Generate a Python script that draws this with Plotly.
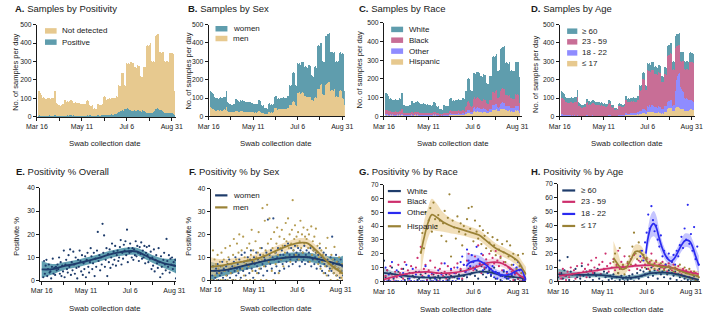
import pandas as pd
import plotly.graph_objects as go

W, H = 713, 316
FONT = "Liberation Sans, Arial, sans-serif"
INK = "#1a1a1a"

TEAL = "#5f9dad"
TAN = "#e7c98f"
PINK = "#c86e96"
LILAC = "#8f8cff"
NAVY = "#1e3c6b"
OLIVE = "#9a8236"
CRIMSON = "#cd2e6c"
BLUE = "#2a2af0"

BASE = "2020-03-16"
BAR_START = "2020-03-18"
DOT_START = "2020-03-18"
TICK_DATES = ["2020-03-16", "2020-04-13", "2020-05-11", "2020-06-08", "2020-07-06", "2020-08-03", "2020-08-31"]
TICK_TEXT = ["Mar 16", "", "May 11", "", "Jul 6", "", "Aug 31"]

# ---------------- A. Samples by positivity (daily counts from Mar 18) ----------------
positive = [6,8,5,7,4, 6,5,7,8,6,4,5, 7,6,8,5,6,7,5, 6,9,8,5,6,4,5, 4,5,6,5,4,6,7,
            8,6,7,9,7,6,8, 9,8,7,6,8,7,6, 6,5,7,6,5,4,6, 5,6,5,4,6,5,7, 8,7,9,10,8,6,7,
            5,6,7,5,4,8,9, 8,7,6,8,9,10,12, 11,10,9,12,10,11,13, 12,11,14,13,12,15,16,
            14,18,20,19,26,28,30, 34,36,35,33,42,44,46, 45,47,44,40,38,36,34,
            32,30,34,36,33,31,35, 34,36,32,30,28,33,35, 34,30,28,26,22,24,23,
            21,22,24,20,23,25,30, 38,42,44,46,45,43,40, 38,36,34,30,26,24,22,
            23,21,20,22,24,20,18, 22,20,18,9]
not_detected = [132,132,127,119,116, 98,101,95,92,92,92,95, 95,98,92,93,94,97,101,
                98,131,134,71,66,64,61, 58,55,58,61,66,62,87, 88,86,75,75,73,82,78,
                83,82,79,78,70,69,74, 72,75,69,68,73,68,68, 65,66,63,66,62,65,81,
                82,81,77,54,52,52,55, 39,40,41,40,38,62,63, 60,57,60,54,56,58,96,
                101,100,87,82,88,85,87, 90,87,86,91,88,83,86, 86,94,90,89,146,140,140,
                204,209,205,203,130,124,124, 247,241,246,246,242,260,264,
                262,262,236,236,235,235,245, 248,242,244,194,190,187,181,
                236,242,240,240,363,364,359, 369,380,374,280,273,277,268,
                397,398,402,402,405,409,310, 314,312,316,316,326,276,274,
                279,277,280,274,321,328,324, 324,324,322,131]

# ---------------- B. Samples by sex ----------------
men = [50,55,45,40,38, 35,38,32,30,36,34,30, 32,34,30,28,30,35,38, 36,50,48,28,25,24,22,
       20,22,24,22,25,24,32, 30,28,26,28,25,30,28, 30,28,26,25,24,22,25, 24,26,22,24,25,22,24,
       22,24,20,22,20,22,28, 30,28,26,20,18,18,20, 14,15,16,14,13,22,24, 22,20,22,20,22,24,45,
       48,46,38,36,40,38,40, 42,40,40,42,40,38,42, 40,46,44,45,62,60,62, 80,84,82,80,60,58,60,
       130,128,132,126,120,128,132, 130,128,110,112,108,106,112, 108,106,104,90,86,88,84,
       100,104,102,98,150,152,148, 165,170,175,120,118,122,118, 170,176,180,184,186,188,140,
       145,142,146,140,148,110,104, 112,108,106,104,140,144,138, 100,98,96,60]
women = [88,85,87,86,82, 69,68,70,70,62,62,70, 70,70,70,70,70,69,68, 68,90,94,48,47,44,44,
         42,38,40,44,45,44,62, 66,64,56,56,55,58,58, 62,62,60,59,54,54,55, 54,54,54,50,53,50,50,
         48,48,48,48,48,48,60, 60,60,60,44,42,40,42, 30,31,32,31,29,48,48, 46,44,44,42,43,44,63,
         64,64,58,58,58,58,60, 60,58,60,62,60,60,60, 60,66,66,63,110,108,108,
         158,161,158,156,112,110,110, 162,160,158,160,160,168,166, 164,164,160,160,160,160,168,
         174,172,172,134,132,132,132, 170,168,166,168,235,236,234, 225,232,223,180,178,180,180,
         265,264,266,264,264,264,210, 207,206,204,206,204,190,192, 190,190,194,192,205,204,204,
         246,246,244,80]

# ---------------- C. Samples by race ----------------
race_hispanic = [6,5,7,4,5, 5,6,4,5,6,4,5, 6,5,4,6,5,7,6, 5,8,7,4,5,3,4, 4,3,5,4,5,4,6,
                 6,5,4,6,5,6,5, 6,5,5,4,5,4,5, 5,4,5,4,5,4,5, 4,5,4,5,4,5,6, 6,5,6,4,4,3,4,
                 3,3,4,3,3,5,5, 5,4,5,4,5,5,8, 9,8,7,7,8,7,8, 8,7,8,9,8,7,8, 8,9,9,8,12,12,13,
                 18,19,18,17,14,13,14, 26,25,27,24,23,26,27, 26,25,22,23,22,21,24,
                 24,23,22,18,17,18,17, 22,23,22,21,34,35,33, 36,40,38,28,27,28,27,
                 38,40,42,42,40,41,32, 32,30,31,30,32,26,25, 27,25,26,25,30,32,30, 32,30,29,18]
race_other = [6,7,6,5,5, 5,5,4,5,5,4,5, 5,5,4,5,5,5,6, 5,7,7,4,4,3,3, 3,3,4,3,4,3,5,
              5,4,4,4,4,5,4, 5,4,4,4,4,3,4, 4,4,4,3,4,3,4, 3,4,3,4,3,4,5, 5,4,5,3,3,3,3,
              2,2,3,2,2,4,4, 4,3,4,3,4,4,6, 7,6,6,5,6,6,6, 6,6,6,7,6,6,6, 6,7,7,6,10,10,11,
              16,17,16,15,11,10,11, 20,19,21,18,18,20,21, 20,20,18,18,17,17,19,
              19,18,18,14,14,14,13, 18,19,18,17,26,27,26, 28,30,29,20,20,21,20,
              30,32,34,33,32,33,24, 24,23,24,23,25,20,19, 20,19,20,19,24,25,24, 25,24,23,14]
race_black = [22,24,20,19,18, 17,18,16,16,15,15,16, 16,17,16,15,16,17,18, 17,24,24,12,11,10,10,
              10,9,10,10,11,10,15, 15,14,12,13,12,14,13, 14,14,13,13,12,11,12, 12,12,11,11,12,11,11,
              10,11,10,10,10,10,13, 13,13,12,9,9,8,9, 7,7,7,7,6,10,10, 10,9,10,9,9,10,16,
              17,16,14,14,15,14,15, 15,15,15,16,15,15,16, 15,17,16,16,30,29,30,
              42,44,43,42,30,29,30, 52,50,54,50,48,52,54, 52,50,46,46,45,44,48,
              48,47,46,38,36,37,36, 46,46,45,44,68,70,68, 70,74,72,52,50,52,51,
              70,72,74,74,72,73,58, 58,56,57,56,58,50,48, 50,48,49,48,58,60,58, 60,58,57,40]
race_white = [92,88,85,84,80, 67,67,68,64,62,63,64, 65,67,66,62,64,65,66, 67,85,88,46,42,44,41,
              37,37,37,41,42,43,58, 58,57,52,51,49,53,54, 55,55,54,53,47,48,49, 47,50,46,46,47,44,44,
              43,42,41,41,41,41,52, 54,54,51,38,36,36,38, 26,28,28,26,25,41,43, 39,40,39,38,38,39,64,
              65,66,57,56,57,57,59, 61,58,59,60,59,58,60, 59,65,64,64,88,85,84,
              124,126,125,124,85,84,83, 136,136,130,136,135,138,136, 138,139,130,131,130,130,133,
              135,134,134,110,107,107,106, 130,130,129,130,190,188,189, 188,190,191,144,143,145,144,
              222,220,218,221,228,227,172, 174,175,174,173,173,148,148, 149,150,149,148,178,175,176,
              175,178,177,138]

# ---------------- D. Samples by age ----------------
age_le17 = [3,4,3,2,2, 2,3,2,2,3,2,2, 2,2,3,2,2,3,2, 2,4,3,2,1,2,1, 1,2,1,2,1,2,3,
            3,2,2,3,2,3,2, 3,2,2,3,2,2,3, 2,3,2,2,3,2,2, 2,3,2,2,3,2,3, 3,3,4,2,3,2,3,
            2,2,3,2,2,4,4, 4,3,4,3,4,5,8, 9,8,7,8,7,8,9, 9,8,9,10,9,8,10, 9,11,10,11,14,13,14,
            18,19,18,17,14,13,14, 24,22,25,23,22,26,25, 24,23,20,21,20,19,22,
            22,21,20,17,16,17,16, 24,26,24,23,42,44,40, 44,48,46,30,28,30,29,
            46,48,50,52,50,48,38, 40,38,40,37,40,30,28, 30,28,29,27,36,38,36, 38,36,34,16]
age_18_22 = [12,14,10,8,7, 6,5,5,4,5,4,4, 4,3,4,3,3,4,3, 3,5,4,2,2,2,2, 2,2,2,2,2,2,3,
             3,2,2,2,2,3,2, 3,2,2,2,2,2,2, 2,2,2,2,2,2,2, 2,2,2,2,2,2,3, 3,3,3,2,2,2,2,
             2,2,2,2,2,3,3, 3,3,3,3,3,4,8, 9,9,8,8,9,8,9, 10,9,10,11,10,9,11, 10,12,12,12,16,16,18,
             24,26,25,24,20,18,19, 34,32,36,33,32,36,35, 34,33,30,32,30,29,33,
             34,33,32,26,25,26,25, 32,34,33,32,38,40,36, 40,44,42,32,30,33,32,
             90,120,150,170,180,190,140, 120,110,100,96,92,70,66, 70,66,64,60,52,50,48, 50,46,44,20]
age_23_59 = [88,86,85,84,81, 70,71,70,69,66,66,69, 71,73,68,69,70,71,75, 74,97,100,54,52,48,48,
             45,42,46,47,51,49,68, 70,69,61,61,59,63,64, 67,67,64,61,58,56,58, 58,58,56,55,57,53,55,
             52,52,50,52,49,52,64, 66,64,62,47,43,42,44, 31,33,33,32,30,49,51, 48,45,46,44,45,46,72,
             73,72,63,60,63,62,63, 64,63,62,63,62,63,62, 62,68,67,65,114,112,110,
             160,163,161,159,111,111,110, 192,193,187,189,186,191,195, 194,194,181,180,180,180,185,
             185,184,184,149,146,145,144, 175,173,173,173,249,248,251, 250,252,253,195,195,195,194,
             237,209,182,162,156,149,122, 142,150,160,164,170,157,160, 159,161,164,167,207,210,209,
             208,213,213,84]
age_ge60 = [35,36,34,32,30, 26,27,25,25,24,24,25, 25,26,25,24,25,26,26, 25,34,35,18,17,16,15,
            14,14,15,15,16,15,20, 20,19,17,18,17,19,18, 19,19,18,18,16,16,17, 16,17,16,15,16,15,15,
            14,15,14,14,14,14,18, 18,18,17,13,12,12,13, 9,9,10,9,8,14,14, 13,13,13,12,13,13,20,
            21,21,18,18,19,18,19, 19,18,19,20,19,18,19, 19,21,21,20,28,27,28,
            36,37,36,36,27,26,27, 42,41,42,41,40,43,43, 42,42,39,39,38,38,40,
            41,40,40,32,31,32,31, 39,39,38,38,56,56,55, 56,58,57,43,43,44,43,
            62,63,64,64,64,65,50, 50,50,50,49,50,43,42, 43,43,43,42,50,50,49, 50,49,49,20]

# ---------------- E. Positivity % overall (daily from Mar 18) ----------------
overall_pct = [1.5,8.5,3,6.5,9, 2,5,7,3.5,4,1,6, 9.5,3,5.5,2.5,6,4.5,7, 5,10,3,8,2,6.5,4,
               13,1.5,7,9,5,3.5,11, 6,13.5,2.5,8,4.5,12.5,7, 3,10,5.5,1,9,6,13, 8.5,4,11,2.5,7.5,5,10.5,
               1.5,9,12,6,3.5,8,14, 10.5,5,7.5,12,2,9.5,6, 13,21,8.5,11,4.5,10,7, 24.5,12,19.5,6,9,14,2,
               11.5,8,13.5,5.5,10,16,7, 12.5,9,15,6.5,11,13,8.5, 10,14.5,17.5,7,12,9.5,15.5,
               13,17,11,22,8,14,12, 16,12.5,10,14,9,13.5,11, 17,10.5,15,12,8.5,14.5,11.5,
               16.5,9.5,13,10,15,7.5,12, 14.5,11,8,15,9.5,12.5,5, 10,6.5,13.5,4,9,11,7.5,
               5.5,14,8,1.5,10.5,6,3, 9,12,7,4.5,18,8.5,6, 11,3.5,9.5,7,10,5,8, 6.5,9,1,4]
overall_fit_day = [0, 14, 28, 42, 56, 70, 84, 98, 112, 120, 126, 140, 154, 168, 171]
overall_fit = [4.9, 5.0, 6.3, 7.2, 8.4, 9.6, 11.1, 12.2, 12.8, 12.6, 11.8, 9.4, 7.6, 6.5, 6.3]
overall_hi = [8.5, 7.2, 8.0, 8.8, 10.0, 11.2, 12.7, 13.8, 14.4, 14.2, 13.4, 11.1, 9.6, 9.5, 9.8]
overall_lo = [1.3, 2.8, 4.6, 5.6, 6.8, 8.0, 9.5, 10.6, 11.2, 11.0, 10.2, 7.7, 5.6, 3.5, 2.8]

# ---------------- F. Positivity % by sex ----------------
women_pct = [2,6,0,4,1, 5,3,7,0,4,2,6, 3,8,1,5,4,0,6, 2,7,4,9,1,5,3, 6,0,8,4,10,2,5,
             7,3,9,5,1,11,6, 4,8,12,2,7,5,10, 6,3,9,13,5,8,1, 10,7,4,12,6,9,3, 8,11,5,14,7,2,10,
             9,6,12,4,26.5,8,11, 7,13,5,10,27,9,3, 12,6,10,14,8,4,11, 9,13,7,11,5,15,10,
             8,12,16,6,11,9,14, 10,7,13,11,15,8,12, 9,14,11,6,13,10,8, 12,9,15,7,11,13,10,
             8,12,10,14,6,11,9, 13,7,10,12,5,9,11, 8,14,6,10,4,9,12, 7,3,11,6,9,2,8,
             5,10,4,19,7,3,9, 6,11,2,8,5,7,1, 9,4,6,2]
men_pct = [0,13,4,9,2, 7,0,11,5,3,8,0, 12,6,0,9,4,14,2, 8,0,10,5,15,3,7, 0,11,18,6,0,9,16,
           4,12,20,0,8,13,5, 19,2,10,7,0,14,9, 6,16,0,11,22,4,13, 8,0,17,10,3,12,21,
           5,14,0,9,31.5,11,6, 26,13,0,33,16,8,27, 10,18,4,14,0,21,12, 7,16,23,11,3,19,14,
           9,22,15,6,18,12,25, 17,10,27,14,20,8,16, 22,35,13,18,24,11,19, 15,21,9,17,26,14,20,
           12,23,16,19,10,18,22, 14,20,8,15,23.5,11,17, 13,19,9,22.5,12,15,7, 10,16,5,13,8,11,3,
           9,6,14,2,18.5,7,4, 8,0,11,5,9,3,14.5, 6,2,8,0,5,10,3, 4,1,7,0]
women_fit_day = [0, 14, 28, 42, 56, 70, 84, 98, 112, 126, 140, 154, 168, 171]
women_fit = [4.0, 4.2, 5.0, 6.2, 7.3, 8.4, 9.2, 9.9, 10.2, 10.0, 9.1, 7.9, 6.6, 6.4]
women_hi = [8.0, 6.8, 7.2, 8.2, 9.3, 10.4, 11.2, 11.9, 12.2, 12.0, 11.2, 10.3, 10.2, 10.6]
women_lo = [0.0, 1.6, 2.8, 4.2, 5.3, 6.4, 7.2, 7.9, 8.2, 8.0, 7.0, 5.5, 3.0, 2.2]
men_fit_day = [0, 14, 28, 42, 56, 70, 84, 98, 112, 120, 126, 140, 154, 162, 168, 171]
men_fit = [5.8, 6.3, 7.3, 8.1, 9.0, 10.6, 12.8, 14.8, 16.2, 16.4, 16.0, 11.8, 7.0, 4.9, 3.4, 2.8]
men_hi = [10.0, 9.1, 9.5, 10.1, 11.0, 12.6, 14.8, 16.8, 18.2, 18.4, 18.0, 13.9, 9.3, 7.5, 6.6, 6.4]
men_lo = [1.6, 3.5, 5.1, 6.1, 7.0, 8.6, 10.8, 12.8, 14.2, 14.4, 14.0, 9.7, 4.7, 2.3, 0.2, 0.0]

# ---------------- G. Positivity % by race (every 2nd day) ----------------
G_START = "2020-03-16"
HISP_START = "2020-05-01"
white_pct = [15,3,8,1,6,10,2,5,0,7,4, 3,9,1,5,2,6,0,4,3,7,1, 2,5,0,3,6,1,4,2,0,5,3,
             1,4,2,6,0,3,5,1,2,4,0, 3,6,2,5,8,1,4,7,3,9,5, 6,10,4,8,2,7,11,5,9,3,6,
             8,4,7,10,2,6,5,1,4,7,3, 2,5,0,4,3,1,6,2,0,3,1,0]
black_pct = [0,4,8,2,11,5,0,7,3,12,6, 9,2,14,5,8,0,11,6,3,10,17, 7,25,4,9,12,1,8,15,5,3,10,
             6,0,9,13,4,7,2,11,5,8,3, 10,6,13,4,9,2,12,7,15,20,10, 14,8,18,11,26,13,6,19,10,16,12,
             20,9,17,13,22,15,11,18,8,14,12, 6,10,3,7,1,5,8,2,4,0,3,1]
other_pct = [0,10,0,5,0,14,3,0,8,0,4, 0,6,0,12,0,2,0,9,0,5,0, 7,0,3,0,11,0,4,0,6,0,2,
             0,8,0,5,0,13,0,3,0,9,0, 6,0,10,2,14,18,12,7,23,15,11, 19,14,9,25,16,12,20,8,13,10,6,
             9,5,11,3,7,2,6,4,0,8,3, 7,2,9,5,12,6,10,14,8,3,0,1]
hispanic_pct = [21,35,24,50,38,44,53,36,57,45, 40,48,44,33,42,51,29,46,63,18,
                44,39,31,47,36,42,26,40,34,45, 53,38,54,29,44,36,31,40,27,37,
                33,24,35,28,22,32,26,19,30,23, 17,27,21,14,29,18,26,12,20,16, 9,19,11,6,20,3]
white_fit_day = [0, 10, 20, 30, 45, 60, 80, 95, 105, 120, 135, 145, 155, 165, 178]
white_fit = [6.2, 5.4, 4.6, 3.8, 3.0, 2.8, 3.0, 4.0, 5.2, 7.0, 6.4, 4.8, 3.6, 3.0, 2.0]
white_hi = [9.7, 7.6, 6.2, 5.2, 4.3, 4.1, 4.3, 5.3, 6.5, 8.3, 7.7, 6.1, 5.0, 4.6, 4.4]
white_lo = [2.7, 3.2, 3.0, 2.4, 1.7, 1.5, 1.7, 2.7, 3.9, 5.7, 5.1, 3.5, 2.2, 1.4, 0.0]
black_fit_day = [0, 10, 25, 40, 55, 70, 85, 100, 115, 130, 145, 155, 165, 172, 178]
black_fit = [1.5, 3.0, 5.2, 6.6, 6.9, 5.9, 6.2, 7.5, 10.2, 13.5, 13.6, 10.8, 6.5, 3.5, 1.8]
black_hi = [4.5, 5.5, 7.5, 8.9, 9.2, 8.1, 8.4, 9.7, 12.5, 16.0, 16.2, 13.4, 9.3, 6.5, 5.3]
black_lo = [0.0, 0.5, 2.9, 4.3, 4.6, 3.7, 4.0, 5.3, 7.9, 11.0, 11.0, 8.2, 3.7, 0.5, 0.0]
other_fit_day = [103, 108, 118, 127, 139, 148, 158, 168, 172, 176, 178]
other_fit = [11.0, 13.8, 15.0, 12.3, 6.4, 4.5, 5.2, 8.2, 8.7, 3.5, 1.0]
other_hi = [21.0, 19.8, 19.0, 15.8, 9.4, 7.5, 8.2, 11.7, 12.7, 8.0, 6.0]
other_lo = [0.0, 7.8, 11.0, 8.8, 3.4, 1.5, 2.2, 4.7, 4.7, 0.0, 0.0]
hisp_fit_day = [46, 50, 55, 60, 66, 74, 87, 95, 107, 119, 127, 140, 152, 160, 168, 174, 178]
hisp_fit = [20, 31, 42, 48.3, 46.4, 43, 39.4, 38, 35.8, 33.5, 30, 24, 20.5, 18, 14.6, 8.7, 5]
hisp_hi = [30, 43, 53, 59.8, 56.4, 50, 44.4, 42.5, 39.8, 37.3, 33.8, 27.6, 24.0, 21.6, 18.6, 13.7, 10.5]
hisp_lo = [2, 19, 31, 36.8, 36.4, 36, 34.4, 33.5, 31.8, 29.7, 26.2, 20.4, 17.0, 14.4, 10.6, 3.7, 0]

# ---------------- H. Positivity % by age (every 2nd day) ----------------
A1822_START = "2020-06-28"
A17_START = "2020-05-25"
ge60_pct = [3,15,6,2,8,4,17.5,1,7,5,0, 9,3,6,2,11,4,0,7,5,3,8, 1,6,4,9,2,5,0,7,3,6,1,
            4,2,5,0,3,6,1,4,2,0,3, 1,4,2,5,0,3,6,2,8,4,7, 5,9,3,7,10,4,8,6,2,9,5,
            7,3,10,5,8,2,6,4,7,1,5, 3,0,4,2,6,1,3,0,2,4,1,0]
a2359_pct = [0,6,2,9,4,1,7,3,10,5,8, 2,11,6,4,13,7,9,3,12,8,15, 6,10,17,8,12,5,14,9,20,11,7,
             13,10,16,8,12,22,9,14,11,18,10, 13,8,16,11,19,12,9,15,14,10,17, 12,16,9,14,20,11,13,15,8,12,10,
             14,9,11,7,13,10,8,12,6,9,11, 7,5,9,4,8,6,3,7,5,2,6,4]
a1822_pct = [18,22,15,28,35,48,38,54,44,36, 40,30,25,33,18,22,12,17,20,10,
             14,19,12,22,18,26,32,24,38,30, 55,27,34,22,39,16,25,12]
a17_pct = [14,20,11,6,24,9,12,5,10,14, 18,12,25,35,20,16,28,22,15,19,
           10,17,13,8,15,12,9,14,11,7, 13,10,8,12,6,11,9,14,7,10, 5,8,12,4,7,10,3,6,9,2, 5,7,1,4,3]
ge60_fit_day = [0, 20, 40, 55, 69, 86, 102, 118, 135, 151, 168, 178]
ge60_fit = [5.1, 4.8, 4.7, 4.5, 3.5, 2.6, 3.5, 5.9, 6.3, 5.1, 2.6, 1.2]
ge60_hi = [9.1, 7.0, 6.5, 6.2, 5.1, 4.2, 5.1, 7.6, 8.0, 6.8, 4.5, 3.7]
ge60_lo = [1.1, 2.6, 2.9, 2.8, 1.9, 1.0, 1.9, 4.2, 4.6, 3.4, 0.7, 0.0]
a2359_fit_day = [1, 15, 44, 65, 86, 106, 118, 135, 151, 168, 178]
a2359_fit = [4.0, 5.1, 7.5, 9.4, 10.5, 11.5, 11.7, 11.0, 8.7, 6.3, 5.2]
a2359_hi = [7.0, 6.9, 8.8, 10.6, 11.7, 12.7, 12.9, 12.2, 10.0, 7.8, 7.4]
a2359_lo = [1.0, 3.3, 6.2, 8.2, 9.3, 10.3, 10.5, 9.8, 7.4, 4.8, 3.0]
a1822_fit_day = [111, 114, 118, 121, 124, 127, 131, 135, 139, 143, 147, 151, 156, 161, 166, 170, 174, 178]
a1822_fit = [20, 32, 40, 41.5, 39, 33, 25, 19.5, 16, 14.5, 16.5, 20.5, 26, 29.5, 29, 25, 18, 11.5]
a1822_hi = [26, 39, 48.5, 50.5, 47.5, 40, 30, 23.5, 19.5, 18, 20, 24.5, 30.5, 34.5, 34, 30, 24, 18.5]
a1822_lo = [14, 25, 31.5, 32.5, 30.5, 26, 20, 15.5, 12.5, 11, 13, 16.5, 21.5, 24.5, 24, 20, 12, 4.5]
a17_fit_day = [70, 76, 81, 86, 92, 98, 104, 110, 114, 120, 127, 143, 160, 176, 178]
a17_fit = [17, 12, 8.7, 9.8, 15.5, 21.5, 21, 16.5, 13.3, 11.8, 11, 9.8, 6.3, 4, 3.8]
a17_hi = [29, 20, 12.7, 13.3, 19.5, 26.5, 26, 21, 17.3, 15.3, 14, 12.6, 9.1, 7.5, 7.6]
a17_lo = [5, 4, 4.7, 6.3, 11.5, 16.5, 16, 12, 9.3, 8.3, 8, 7, 3.5, 0.5, 0]

# =====================================================================
fig = go.Figure()


def ax_names(i):
    s = "" if i == 1 else str(i)
    return "x" + s, "y" + s


def dates(start, n, step=1):
    return pd.date_range(start, periods=n, freq=f"{step}D")


def from_days(days):
    return [pd.Timestamp(BASE) + pd.Timedelta(days=d) for d in days]


def bars(i, series):
    xa, ya = ax_names(i)
    for name, vals, color in series:
        fig.add_trace(go.Bar(x=dates(BAR_START, len(vals)), y=vals, name=name,
                             marker=dict(color=color, line=dict(width=0)),
                             xaxis=xa, yaxis=ya, hoverinfo="skip"))


def band(i, days, lo, hi, color):
    xa, ya = ax_names(i)
    xs = from_days(days)
    fig.add_trace(go.Scatter(x=xs, y=lo, mode="lines", line=dict(width=0, shape="spline", color=color),
                             xaxis=xa, yaxis=ya, hoverinfo="skip"))
    fig.add_trace(go.Scatter(x=xs, y=hi, mode="lines", line=dict(width=0, shape="spline", color=color),
                             fill="tonexty", fillcolor=color, xaxis=xa, yaxis=ya, hoverinfo="skip"))


def dots(i, xs, vals, color, size=2.2):
    xa, ya = ax_names(i)
    fig.add_trace(go.Scatter(x=xs, y=vals, mode="markers", marker=dict(size=size, color=color, line=dict(width=0)),
                             xaxis=xa, yaxis=ya, hoverinfo="skip"))


def curve(i, days, fit, color, width=1.7):
    xa, ya = ax_names(i)
    fig.add_trace(go.Scatter(x=from_days(days), y=fit, mode="lines", line=dict(width=width, shape="spline", color=color),
                             xaxis=xa, yaxis=ya, hoverinfo="skip"))


# ---- row 1 ----
bars(1, [("Positive", positive, TEAL), ("Not detected", not_detected, TAN)])
bars(2, [("men", men, TAN), ("women", women, TEAL)])
bars(3, [("Hispanic", race_hispanic, TAN), ("Other", race_other, LILAC),
         ("Black", race_black, PINK), ("White", race_white, TEAL)])
bars(4, [("≤ 17", age_le17, TAN), ("18 - 22", age_18_22, LILAC),
         ("23 - 59", age_23_59, PINK), ("≥ 60", age_ge60, TEAL)])

# ---- E ----
band(5, overall_fit_day, overall_lo, overall_hi, "rgba(72,145,165,0.85)")
dots(5, dates(DOT_START, len(overall_pct)), overall_pct, NAVY)
curve(5, overall_fit_day, overall_fit, NAVY, 1.9)

# ---- F ----
band(6, women_fit_day, women_lo, women_hi, "rgba(70,140,160,0.85)")
band(6, men_fit_day, men_lo, men_hi, "rgba(236,206,150,0.65)")
dots(6, dates(DOT_START, len(women_pct)), women_pct, "#2d4f86")
dots(6, dates(DOT_START, len(men_pct)), men_pct, "#b59c52")
curve(6, women_fit_day, women_fit, NAVY, 1.9)
curve(6, men_fit_day, men_fit, OLIVE, 1.9)

# ---- G ----
band(7, white_fit_day, white_lo, white_hi, "rgba(95,135,165,0.45)")
band(7, black_fit_day, black_lo, black_hi, "rgba(225,150,180,0.35)")
band(7, other_fit_day, other_lo, other_hi, "rgba(110,110,255,0.40)")
band(7, hisp_fit_day, hisp_lo, hisp_hi, "rgba(232,202,140,0.60)")
dots(7, dates(G_START, len(white_pct), 2), white_pct, NAVY)
dots(7, dates(G_START, len(black_pct), 2), black_pct, CRIMSON)
dots(7, dates(G_START, len(other_pct), 2), other_pct, BLUE)
dots(7, dates(HISP_START, len(hispanic_pct), 2), hispanic_pct, OLIVE)
curve(7, white_fit_day, white_fit, NAVY)
curve(7, black_fit_day, black_fit, CRIMSON)
curve(7, other_fit_day, other_fit, BLUE)
curve(7, hisp_fit_day, hisp_fit, OLIVE)

# ---- H ----
band(8, ge60_fit_day, ge60_lo, ge60_hi, "rgba(60,130,150,0.65)")
band(8, a2359_fit_day, a2359_lo, a2359_hi, "rgba(225,150,180,0.40)")
band(8, a17_fit_day, a17_lo, a17_hi, "rgba(232,202,140,0.60)")
band(8, a1822_fit_day, a1822_lo, a1822_hi, "rgba(110,110,255,0.40)")
dots(8, dates(G_START, len(ge60_pct), 2), ge60_pct, NAVY)
dots(8, dates(G_START, len(a2359_pct), 2), a2359_pct, CRIMSON)
dots(8, dates(A17_START, len(a17_pct), 2), a17_pct, OLIVE)
dots(8, dates(A1822_START, len(a1822_pct), 2), a1822_pct, BLUE)
curve(8, ge60_fit_day, ge60_fit, NAVY)
curve(8, a2359_fit_day, a2359_fit, CRIMSON)
curve(8, a17_fit_day, a17_fit, OLIVE)
curve(8, a1822_fit_day, a1822_fit, BLUE)

# ---- axes / layout (pixel geometry) ----
PANELS = [
    # idx, x_left, x_right, y_top, y_bottom, x range, y max
    (1, 26.7, 170.0, 21.0, 115.5, ("2020-03-16", "2020-09-05 06:00"), 500),
    (2, 203.7, 344.0, 21.0, 115.0, ("2020-03-16", "2020-09-03 08:00"), 500),
    (3, 384.3, 527.0, 19.0, 115.0, ("2020-03-16", "2020-09-06 10:00"), 500),
    (4, 565.3, 705.0, 21.0, 115.0, ("2020-03-16", "2020-09-04 12:00"), 500),
    (5, 30.0, 170.0, 188.0, 283.0, ("2020-03-14", "2020-09-02"), 40),
    (6, 205.7, 342.0, 189.0, 282.3, ("2020-03-16", "2020-09-02 22:00"), 40),
    (7, 384.3, 531.0, 184.7, 283.7, ("2020-03-16", "2020-09-10 08:00"), 70),
    (8, 563.7, 710.0, 184.0, 283.7, ("2020-03-16", "2020-09-11 14:00"), 70),
]
axis_style = dict(showline=True, linecolor=INK, linewidth=1, ticks="outside", ticklen=3, tickwidth=1,
                  tickcolor=INK, showgrid=False, zeroline=False, tickfont=dict(family=FONT, size=7, color=INK))
layout_axes = {}
for i, xl, xr, yt, yb, xr_rng, ymax in PANELS:
    s = "" if i == 1 else str(i)
    layout_axes["xaxis" + s] = dict(axis_style, domain=[xl / W, xr / W], range=list(xr_rng), type="date",
                                    anchor="y" + s, tickmode="array", tickvals=TICK_DATES, ticktext=TICK_TEXT)
    layout_axes["yaxis" + s] = dict(axis_style, domain=[1 - yb / H, 1 - yt / H], range=[0, ymax],
                                    anchor="x" + s, dtick=100 if ymax == 500 else 10,
                                    tickfont=dict(family=FONT, size=6.8, color=INK))
fig.update_layout(**layout_axes)

ann = []
shapes = []


def text(x, y, t, size=8, angle=0, xanchor="left"):
    ann.append(dict(x=x / W, y=1 - y / H, xref="paper", yref="paper", text=t, showarrow=False,
                    xanchor=xanchor, yanchor="middle", textangle=angle,
                    font=dict(family=FONT, size=size, color=INK)))


TITLES = [
    (2, 5, "A.", "Samples by Positivity"), (180, 5, "B.", "Samples by Sex"),
    (357, 5, "C.", "Samples by Race"), (534, 5, "D.", "Samples by Age"),
    (3, 171, "E.", "Positivity % Overall"), (181, 171, "F.", "Positivity % by Sex"),
    (357, 171, "G.", "Positivity % by Race"), (534, 171, "H.", "Positivity % by Age"),
]
for x, y, letter, t in TITLES:
    text(x, y, f"<b>{letter}</b> {t}", size=9.5)

for x, y in [(4.5, 70), (182.5, 69), (359.5, 67), (539.7, 71.7)]:
    text(x, y, "No. of samples per day", size=7.5, angle=-90, xanchor="center")
for x, y in [(6.3, 238), (183.3, 237), (360, 237), (539.3, 237)]:
    text(x, y, "Positivite %", size=7.5, angle=-90, xanchor="center")
for x, y in [(97, 142.5), (273, 142.5), (455, 143), (635, 142.5),
             (97, 311), (273, 311), (458, 312.5), (636, 312.5)]:
    text(x, y, "Swab collection date", size=7.8, xanchor="center")


def swatch(x0, x1, yc, color, label, tx):
    shapes.append(dict(type="rect", xref="paper", yref="paper", x0=x0 / W, x1=x1 / W,
                       y0=1 - (yc + 2.8) / H, y1=1 - (yc - 2.8) / H, fillcolor=color, line=dict(width=0)))
    text(tx, yc, label, size=8)


def legline(x0, x1, yc, color, label, tx):
    shapes.append(dict(type="line", xref="paper", yref="paper", x0=x0 / W, x1=x1 / W,
                       y0=1 - yc / H, y1=1 - yc / H, line=dict(color=color, width=2.2)))
    text(tx, yc, label, size=8)


swatch(35, 47, 27.5, TAN, "Not detected", 50)
swatch(35, 47, 39, TEAL, "Positive", 50)
swatch(210.7, 223, 25.3, TEAL, "women", 226.3)
swatch(210.7, 223, 35.3, TAN, "men", 226.3)
for yc, col, lab in [(26, TEAL, "White"), (37, PINK, "Black"), (48.2, LILAC, "Other"), (59.3, TAN, "Hispanic")]:
    swatch(391.7, 404, yc, col, lab, 407.7)
for yc, col, lab in [(27.8, TEAL, "≥ 60"), (38.7, PINK, "23 - 59"), (50, LILAC, "18 - 22"), (61, TAN, "≤ 17")]:
    swatch(573, 583.5, yc, col, lab, 586.3)
legline(210.3, 223, 195.7, NAVY, "women", 226.3)
legline(210.3, 223, 208, OLIVE, "men", 226.3)
for yc, col, lab in [(191.3, NAVY, "White"), (202.3, CRIMSON, "Black"), (213.7, BLUE, "Other"), (227.3, OLIVE, "Hispanic")]:
    legline(388.3, 401.7, yc, col, lab, 405.7)
for yc, col, lab in [(190.7, NAVY, "≥ 60"), (202.3, CRIMSON, "23 - 59"), (214.7, BLUE, "18 - 22"), (227, OLIVE, "≤ 17")]:
    legline(568, 581.3, yc, col, lab, 585.3)

fig.update_layout(width=W, height=H, margin=dict(l=0, r=0, t=0, b=0), paper_bgcolor="white",
                  plot_bgcolor="white", showlegend=False, barmode="stack", bargap=0, bargroupgap=0,
                  hovermode=False, annotations=ann, shapes=shapes, font=dict(family=FONT, color=INK))

fig.write_html("out.html", config={"displayModeBar": False, "staticPlot": True},
               post_script="document.body.style.margin='0';document.body.style.padding='0';"
                           "document.documentElement.style.overflow='hidden';")
